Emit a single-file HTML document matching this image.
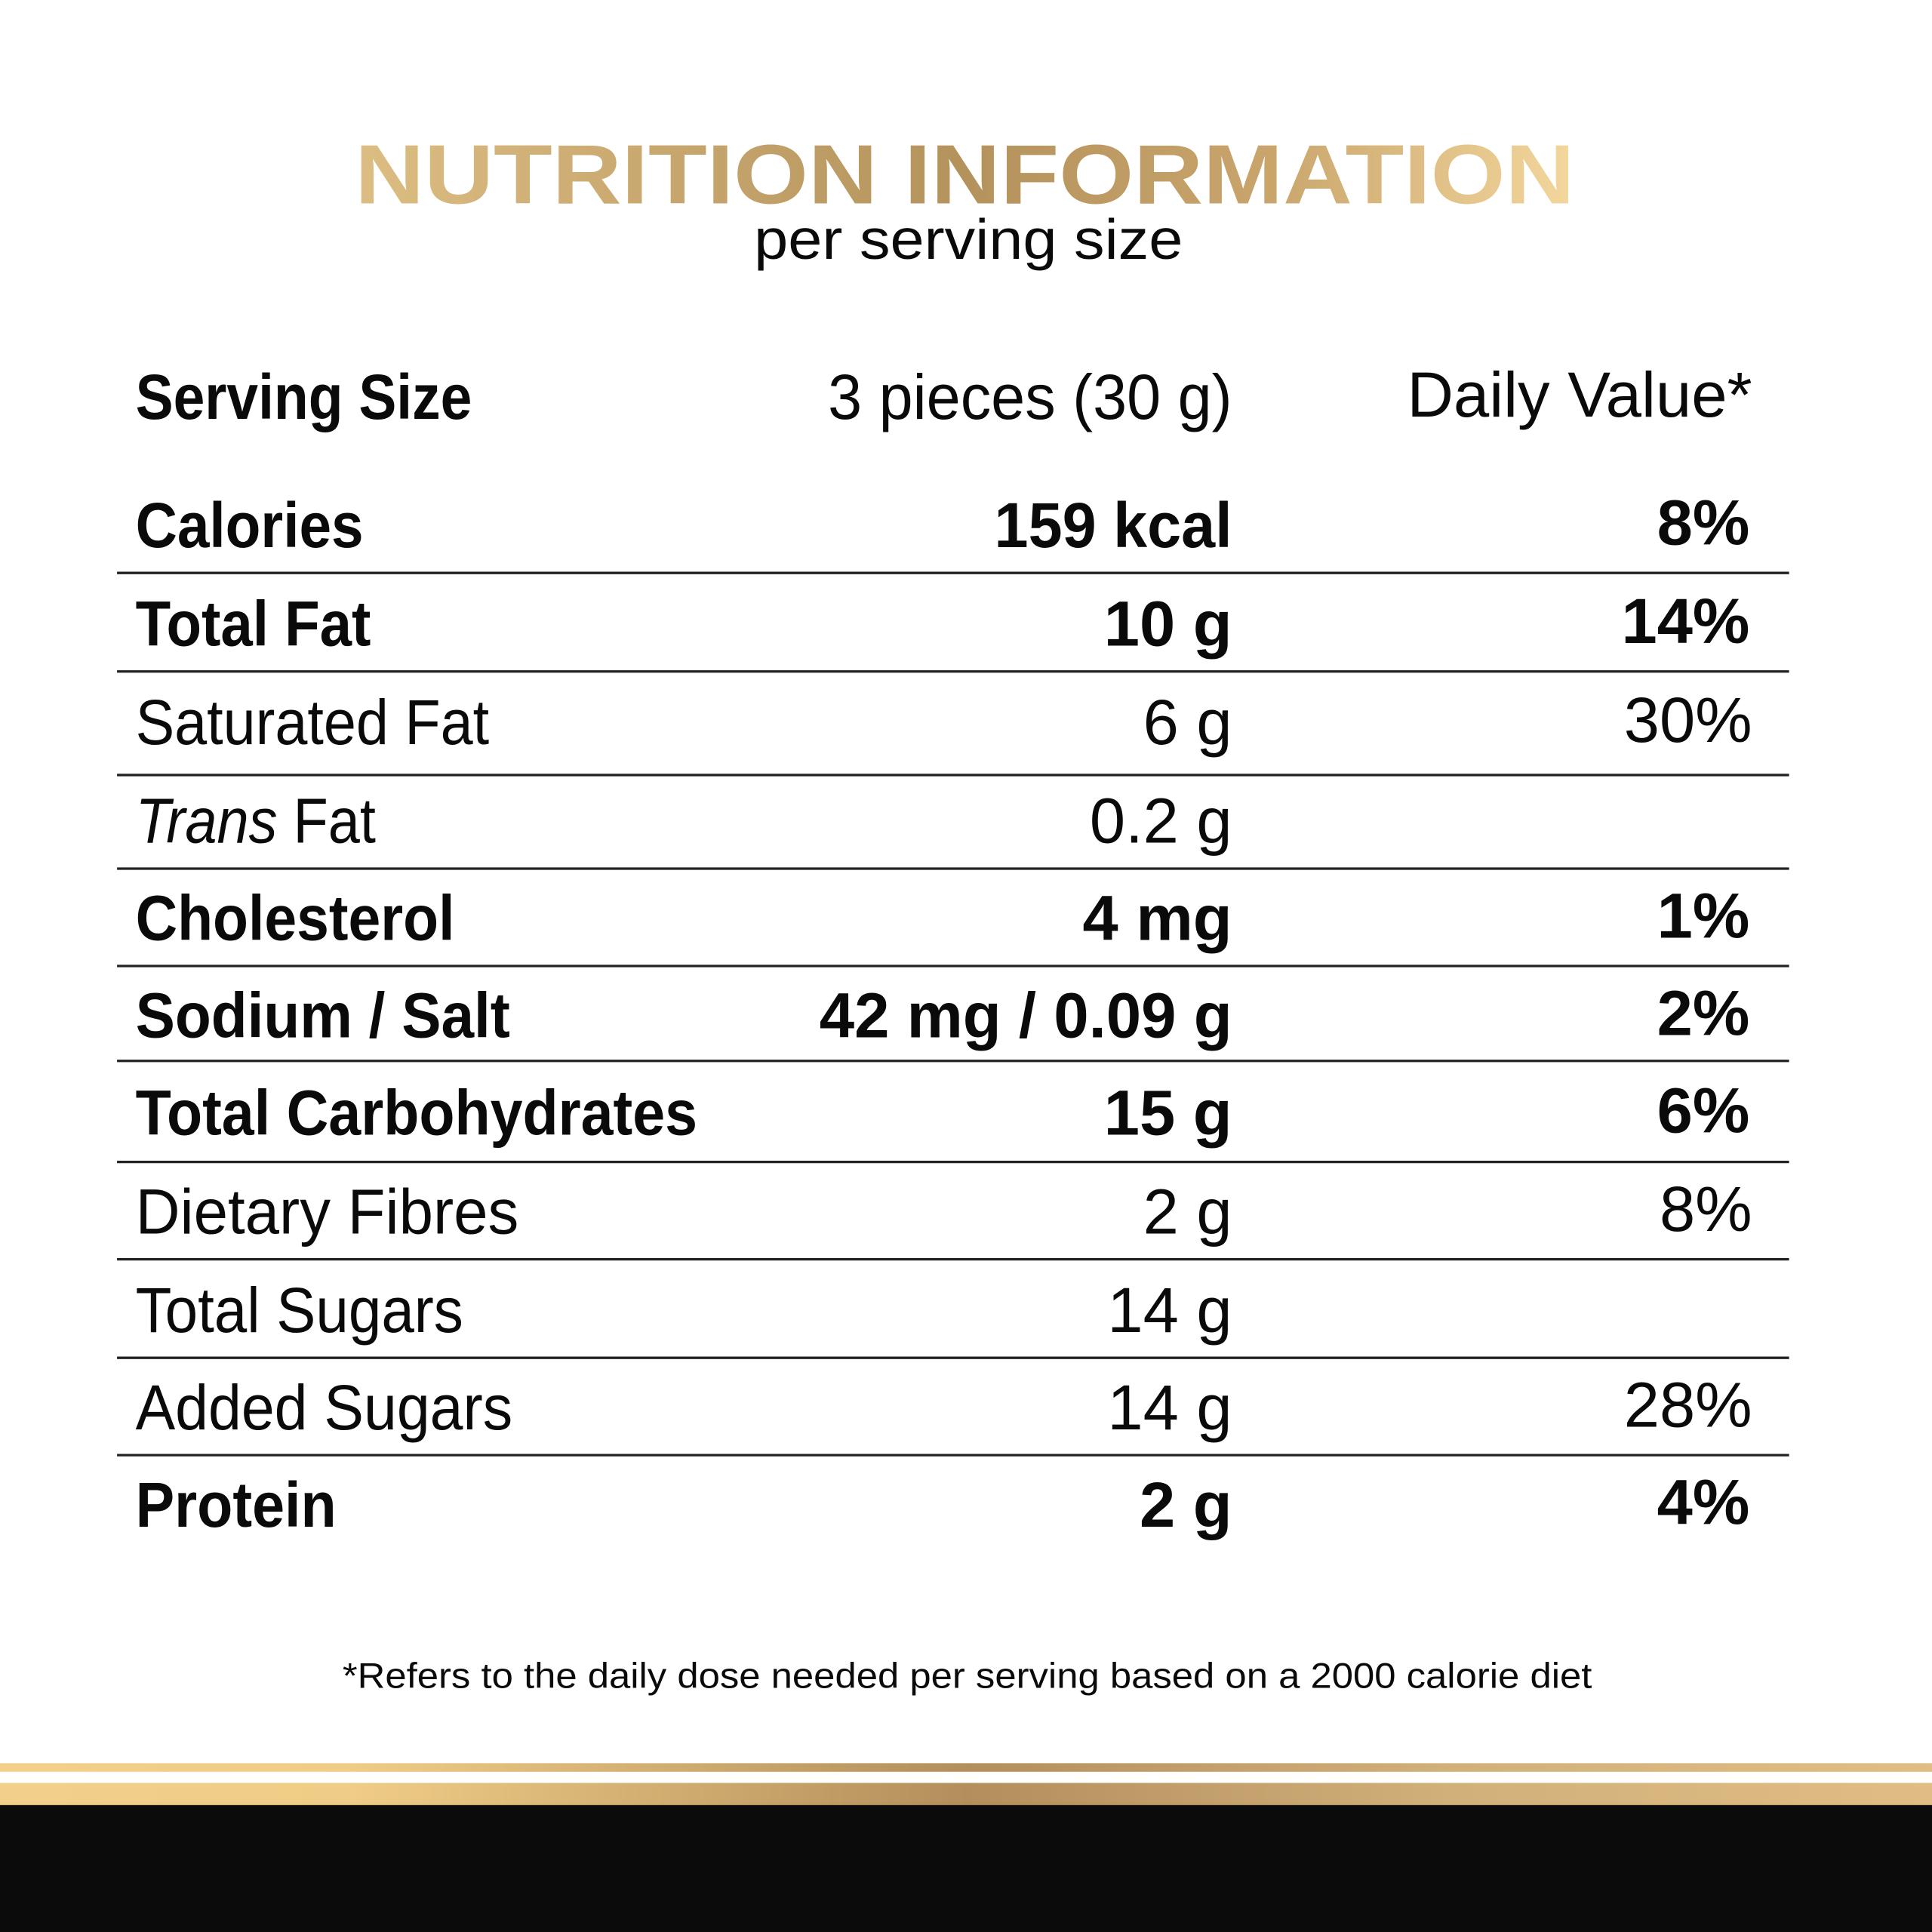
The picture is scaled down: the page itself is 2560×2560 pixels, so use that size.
<!DOCTYPE html>
<html><head><meta charset="utf-8"><style>
html,body{margin:0;padding:0;background:#fff;}
svg{display:block;}
text{font-family:"Liberation Sans",sans-serif;fill:#0a0a0a;}
.b{font-weight:bold;font-size:52px;}
.n{font-size:52px;}
</style></head><body>
<svg width="2560" height="2560" viewBox="0 0 1568 1568" xmlns="http://www.w3.org/2000/svg">
<defs>
<linearGradient id="tg" x1="288" x2="1278" y1="0" y2="0" gradientUnits="userSpaceOnUse">
<stop offset="0" stop-color="#dcbd82"/><stop offset="0.5" stop-color="#b4925c"/><stop offset="0.75" stop-color="#c9a56c"/><stop offset="1" stop-color="#f3d79c"/></linearGradient>
<linearGradient id="bg" x1="0" x2="1568" y1="0" y2="0" gradientUnits="userSpaceOnUse">
<stop offset="0" stop-color="#f2d08a"/><stop offset="0.18" stop-color="#f0cd86"/><stop offset="0.5" stop-color="#b38f5c"/><stop offset="0.75" stop-color="#d2b07a"/><stop offset="1" stop-color="#dfbd84"/></linearGradient>
</defs>
<rect width="1568" height="1568" fill="#fff"/>
<text x="783" y="165" text-anchor="middle" font-size="68" font-weight="bold" style="fill:url(#tg)" textLength="990" lengthAdjust="spacingAndGlyphs">NUTRITION INFORMATION</text>
<text x="786" y="210" text-anchor="middle" font-size="46" textLength="348" lengthAdjust="spacingAndGlyphs">per serving size</text>

<text class="b" x="110" y="340" textLength="273" lengthAdjust="spacingAndGlyphs">Serving Size</text>
<text class="n" x="1000" y="340" text-anchor="end" textLength="328" lengthAdjust="spacingAndGlyphs">3 pieces (30 g)</text>
<text class="n" x="1422" y="338" text-anchor="end" textLength="280" lengthAdjust="spacingAndGlyphs">Daily Value*</text>

<g stroke="#222" stroke-width="2">
<line x1="95" x2="1452" y1="465" y2="465"/>
<line x1="95" x2="1452" y1="545" y2="545"/>
<line x1="95" x2="1452" y1="629" y2="629"/>
<line x1="95" x2="1452" y1="705" y2="705"/>
<line x1="95" x2="1452" y1="784" y2="784"/>
<line x1="95" x2="1452" y1="861" y2="861"/>
<line x1="95" x2="1452" y1="943" y2="943"/>
<line x1="95" x2="1452" y1="1022" y2="1022"/>
<line x1="95" x2="1452" y1="1102" y2="1102"/>
<line x1="95" x2="1452" y1="1181" y2="1181"/>
</g>

<text class="b" x="110" y="444" textLength="185" lengthAdjust="spacingAndGlyphs">Calories</text><text class="b" x="1000" y="444" text-anchor="end" textLength="193" lengthAdjust="spacingAndGlyphs">159 kcal</text><text class="b" x="1420" y="442" text-anchor="end">8%</text>
<text class="b" x="110" y="524" textLength="191" lengthAdjust="spacingAndGlyphs">Total Fat</text><text class="b" x="1000" y="524" text-anchor="end">10 g</text><text class="b" x="1420" y="522" text-anchor="end">14%</text>
<text class="n" x="110" y="604" textLength="287" lengthAdjust="spacingAndGlyphs">Saturated Fat</text><text class="n" x="1000" y="604" text-anchor="end">6 g</text><text class="n" x="1422" y="602" text-anchor="end">30%</text>
<text class="n" x="110" y="684" textLength="195" lengthAdjust="spacingAndGlyphs"><tspan font-style="italic">Trans</tspan> Fat</text><text class="n" x="1000" y="684" text-anchor="end">0.2 g</text>
<text class="b" x="110" y="763" textLength="259" lengthAdjust="spacingAndGlyphs">Cholesterol</text><text class="b" x="1000" y="763" text-anchor="end">4 mg</text><text class="b" x="1420" y="761" text-anchor="end">1%</text>
<text class="b" x="110" y="842" textLength="304" lengthAdjust="spacingAndGlyphs">Sodium / Salt</text><text class="b" x="1000" y="842" text-anchor="end" textLength="335" lengthAdjust="spacingAndGlyphs">42 mg / 0.09 g</text><text class="b" x="1420" y="840" text-anchor="end">2%</text>
<text class="b" x="110" y="921" textLength="456" lengthAdjust="spacingAndGlyphs">Total Carbohydrates</text><text class="b" x="1000" y="921" text-anchor="end">15 g</text><text class="b" x="1420" y="919" text-anchor="end">6%</text>
<text class="n" x="110" y="1001" textLength="311" lengthAdjust="spacingAndGlyphs">Dietary Fibres</text><text class="n" x="1000" y="1001" text-anchor="end">2 g</text><text class="n" x="1422" y="999" text-anchor="end">8%</text>
<text class="n" x="110" y="1081" textLength="266" lengthAdjust="spacingAndGlyphs">Total Sugars</text><text class="n" x="1000" y="1081" text-anchor="end">14 g</text>
<text class="n" x="110" y="1160" textLength="306" lengthAdjust="spacingAndGlyphs">Added Sugars</text><text class="n" x="1000" y="1160" text-anchor="end">14 g</text><text class="n" x="1422" y="1158" text-anchor="end">28%</text>
<text class="b" x="110" y="1239" textLength="163" lengthAdjust="spacingAndGlyphs">Protein</text><text class="b" x="1000" y="1239" text-anchor="end">2 g</text><text class="b" x="1420" y="1237" text-anchor="end">4%</text>

<text x="785" y="1370" text-anchor="middle" font-size="29" textLength="1014" lengthAdjust="spacingAndGlyphs">*Refers to the daily dose needed per serving based on a 2000 calorie diet</text>

<rect x="0" y="1431" width="1568" height="7" fill="url(#bg)"/>
<rect x="0" y="1447" width="1568" height="19" fill="url(#bg)"/>
<rect x="0" y="1465" width="1568" height="103" fill="#0b0b0b"/>
</svg>
</body></html>
